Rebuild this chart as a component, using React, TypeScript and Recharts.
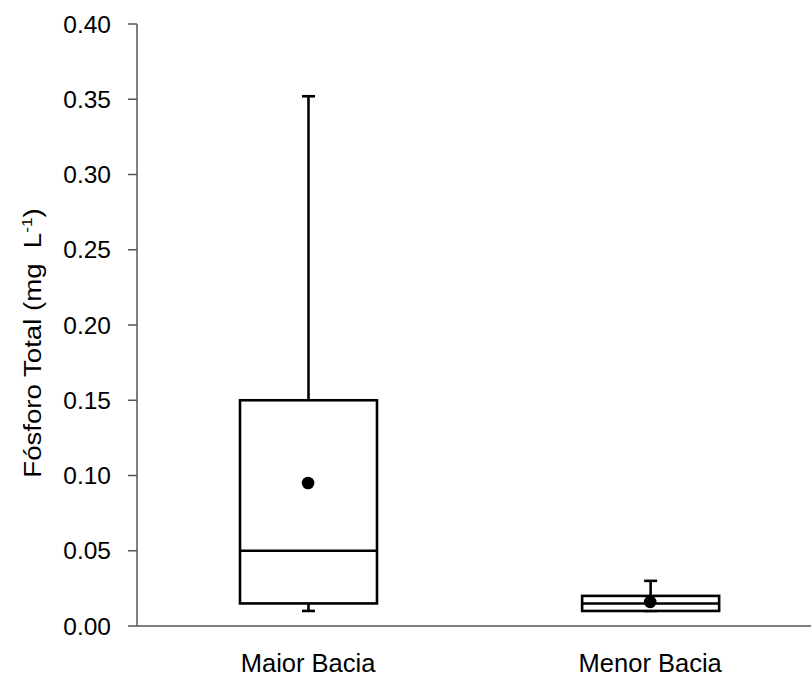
import React from "react";
import { ComposedChart, Bar, Scatter, XAxis, YAxis, Label } from "recharts";

// box plot of total phosphorus, two basins
const categories = ["Maior Bacia", "Menor Bacia"];
const positions = [1, 2];
const whiskerLow = [0.01, 0.01];
const q1 = [0.015, 0.01];
const median = [0.05, 0.015];
const q3 = [0.15, 0.02];
const whiskerHigh = [0.352, 0.03];
const means = [0.095, 0.016];
const yTicks = [0, 0.05, 0.1, 0.15, 0.2, 0.25, 0.3, 0.35, 0.4];

const data = categories.map((name, i) => ({
  x: positions[i],
  name,
  box: [q1[i], q3[i]],
  low: whiskerLow[i],
  med: median[i],
  high: whiskerHigh[i],
  mean: means[i],
}));

const FONT = "'Liberation Sans', Arial, Helvetica, sans-serif";
const INK = "#000";

function BoxShape(props: any) {
  const { x, y, width, height, payload } = props;
  const [lo, hi] = payload.box;
  // linear y scale: map a value through the bar's own pixel span
  const py = (v: number) => y + (height * (hi - v)) / (hi - lo);
  const cx = x + width / 2;
  const cap = 6.5;
  return (
    <g stroke={INK} strokeWidth={2.6} fill="none">
      <line x1={cx} x2={cx} y1={py(payload.high)} y2={y} />
      <line x1={cx - cap} x2={cx + cap} y1={py(payload.high)} y2={py(payload.high)} />
      <line x1={cx} x2={cx} y1={y + height} y2={py(payload.low)} />
      <line x1={cx - cap} x2={cx + cap} y1={py(payload.low)} y2={py(payload.low)} />
      <rect x={x} y={y} width={width} height={height} fill="#fff" />
      <line x1={x} x2={x + width} y1={py(payload.med)} y2={py(payload.med)} />
    </g>
  );
}

function MeanDot(props: any) {
  const { cx, cy } = props;
  return <circle cx={cx} cy={cy} r={6.3} fill={INK} />;
}

function YTitle() {
  return (
    <text
      transform="translate(41,343) rotate(-90) scale(1.15,1)"
      textAnchor="middle"
      fontFamily={FONT}
      fontSize={24}
      fill={INK}
    >
      <tspan>{"Fósforo Total (mg\u00A0\u00A0L"}</tspan>
      <tspan fontSize={15} dy={-9}>-1</tspan>
      <tspan dy={9}>)</tspan>
    </text>
  );
}

export default function App() {
  return (
    <div style={{ position: "absolute", left: 0, top: 0, width: 811, height: 677, background: "#fff" }}>
      <ComposedChart
        width={811}
        height={677}
        data={data}
        margin={{ top: 24, right: 0, bottom: 0, left: 57 }}
      >
        <XAxis
          dataKey="x"
          type="number"
          domain={[0.5, 2.47]}
          ticks={positions}
          tickFormatter={(v: number) => categories[positions.indexOf(v)] ?? ""}
          tickLine={false}
          tickSize={0}
          tickMargin={28}
          height={51}
          stroke="#555"
          strokeWidth={1.5}
          tick={{ fill: INK, fontSize: 25.5, fontFamily: FONT }}
          allowDataOverflow
        />
        <YAxis
          type="number"
          domain={[0, 0.4]}
          ticks={yTicks}
          tickFormatter={(v: number) => v.toFixed(2)}
          width={80}
          tickSize={9}
          tickMargin={17}
          stroke="#555"
          strokeWidth={1.5}
          tick={{ fill: INK, fontSize: 24.5, fontFamily: FONT }}
        >
          <Label content={() => <YTitle />} />
        </YAxis>
        <Bar dataKey="box" barSize={137} shape={BoxShape} isAnimationActive={false} />
        <Scatter dataKey="mean" shape={MeanDot} isAnimationActive={false} />
      </ComposedChart>
    </div>
  );
}
